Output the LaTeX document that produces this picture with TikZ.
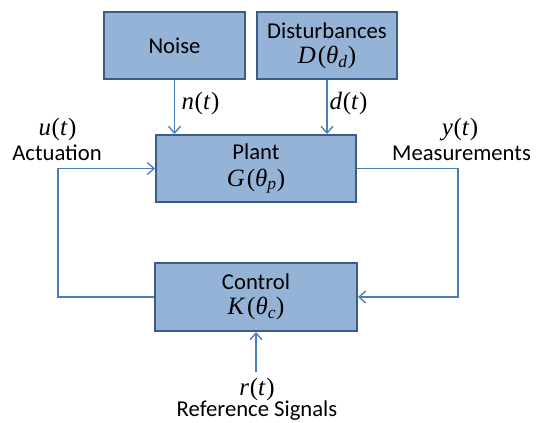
\documentclass[tikz,border=0pt]{standalone}
\usepackage{fontspec}
\setmainfont{Carlito}
\newfontfamily\serif[Scale=1.1]{Liberation Serif}
\usetikzlibrary{arrows.meta}
\definecolor{boxfill}{HTML}{95B3D7}
\definecolor{boxline}{HTML}{385D8A}
\definecolor{wire}{HTML}{4A7EBB}
% italic serif symbols with upright brackets
\newcommand\sym[1]{\textit{#1}}
\newcommand\fn[3]{{\serif\sym{#1}\kern1.5pt(\sym{#2}\textsubscript{\sym{#3}})}}
\newcommand\sig[1]{{\serif\sym{#1}\kern0.5pt(\sym{t}\kern0.5pt)}}
\begin{document}
\begin{tikzpicture}[x=0.75pt,y=-0.75pt,
  every node/.style={font=\fontsize{17}{20}\selectfont},
  blockbox/.style={draw=boxline,fill=boxfill,line width=1.5pt,inner sep=0pt,
    align=center},
  wireline/.style={draw=wire,line width=1.1pt,
    -{Straight Barb[length=5pt,width=9pt,line width=1pt]}},
  label/.style={inner sep=1pt}]
\useasboundingbox (0,0) rectangle (541,423);
% blocks
\node[blockbox,minimum width=141*0.75pt,minimum height=67*0.75pt] (noise) at (174.5,45.5) {Noise};
\node[blockbox,minimum width=140*0.75pt,minimum height=67*0.75pt] (dist) at (327,45.5)
  {Disturbances\\[-1pt]\fn{D}{θ}{d}};
\node[blockbox,minimum width=200*0.75pt,minimum height=67*0.75pt] (plant) at (256,168.5)
  {Plant\\[0pt]\fn{G}{θ}{p}};
\node[blockbox,minimum width=202*0.75pt,minimum height=68*0.75pt] (ctrl) at (256,297)
  {Control\\[-1pt]\fn{K}{θ}{c}};
% signal labels
\node[label,anchor=west] (nlab) at (180,104) {\sig{n}};
\node[label,anchor=west] (dlab) at (328,104) {\sig{d}};
\node[label] (ulab) at (57.5,130) {\sig{u}};
\node[label] (act) at (57,153) {Actuation};
\node[label] (ylab) at (460,130) {\sig{y}};
\node[label] (meas) at (461.5,153) {Measurements};
\node[label] (rlab) at (257,390) {\sig{r}};
\node[label] (reflab) at (257,411) {Reference Signals};
% loop corners and free ends
\coordinate (lbend) at (58,297);
\coordinate (rbend) at (458,168.5);
\coordinate (rin) at (256,372);
% connectors
\draw[wireline] (noise.south) -- (noise.south |- plant.north);
\draw[wireline] (dist.south) -- (dist.south |- plant.north);
\draw[wireline] (ctrl.west) -- (lbend) |- (plant.west);
\draw[wireline] (plant.east) -- (rbend) |- (ctrl.east);
\draw[wireline] (rin) -- (ctrl.south);
\end{tikzpicture}
\end{document}
